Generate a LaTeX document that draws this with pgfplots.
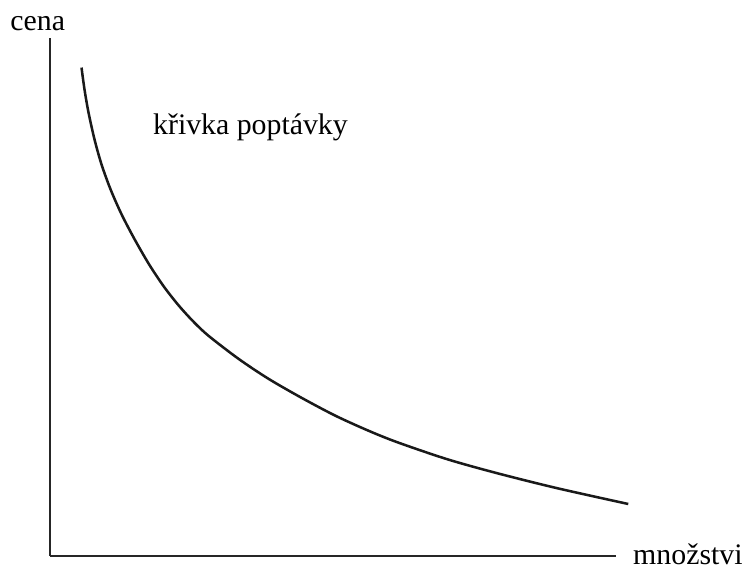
\documentclass[border=0pt]{standalone}
\usepackage{fontspec}
\setmainfont{Liberation Serif}
\usepackage{pgfplots}
\pgfplotsset{compat=1.18}
\begin{document}
\begin{tikzpicture}
\begin{axis}[
  scale only axis,
  width=427.5pt, height=390.75pt,
  xmin=50, xmax=620, ymin=10, ymax=531,
  axis x line=bottom, axis y line=left,
  axis line style={line width=1.3pt, -, black!85},
  xtick=\empty, ytick=\empty,
  clip=false,
]
\addplot[line width=1.9pt, black!90, smooth, tension=0.5] coordinates {
(82,501) (85,479) (89,456) (95,429) (102,404) (111,379) (122,354)
(135,329) (150,303) (165,280.5) (180,261.4) (195,245) (210,231) (240,208)
(270,188) (303,169) (337,151) (370,136) (400,124) (450,107) (500,93)
(560,78) (632,62)
};
\path (axis cs:0,0) rectangle (axis cs:747,569);
\node[font=\fontsize{22.5}{26}\selectfont] at (axis cs:38,545) {cena};
\node[font=\fontsize{22.5}{26}\selectfont] at (axis cs:692,11) {množstvi};
\node[font=\fontsize{22.5}{26}\selectfont] at (axis cs:252,441) {křivka poptávky};
\end{axis}
\end{tikzpicture}
\end{document}
